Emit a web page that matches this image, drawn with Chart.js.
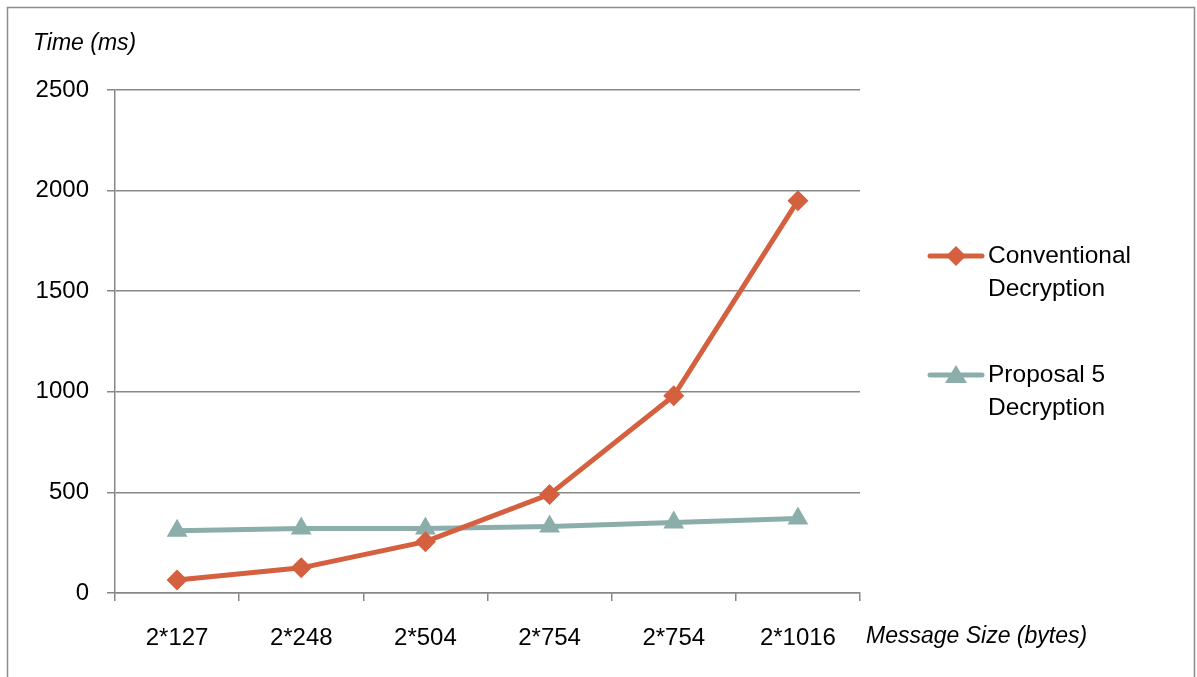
<!DOCTYPE html>
<html>
<head>
<meta charset="utf-8">
<script src="https://cdn.jsdelivr.net/npm/chart.js@4/dist/chart.umd.min.js"></script>
<style>
  html, body { margin: 0; padding: 0; background: #fff; }
  #wrap { width: 1197px; height: 677px; position: relative; }
</style>
</head>
<body>
<div id="wrap"><canvas id="c" width="1197" height="677"></canvas></div>
<script>
// Decryption timing data
const categories = ['2*127', '2*248', '2*504', '2*754', '2*754', '2*1016'];
const conventionalValues = [65, 125, 255, 490, 980, 1950];
const proposalValues = [310, 320, 320, 330, 350, 370];
const seriesNames = [['Conventional', 'Decryption'], ['Proposal 5', 'Decryption']];
const yTicks = [0, 500, 1000, 1500, 2000, 2500];

const FONT = '"Liberation Sans", Arial, sans-serif';
const ORANGE = '#D4603F';
const TEAL = '#8BAEAB';
const GRID = '#878787';

// Frame, axis titles and legend
const decorations = {
  id: 'decorations',
  afterDraw(chart) {
    const ctx = chart.ctx;
    ctx.save();
    // outer frame
    ctx.strokeStyle = '#8c8c8c';
    ctx.lineWidth = 1.5;
    ctx.beginPath();
    ctx.moveTo(7.5, 680);
    ctx.lineTo(7.5, 7.5);
    ctx.lineTo(1194.5, 7.5);
    ctx.lineTo(1194.5, 680);
    ctx.stroke();

    // axis titles
    ctx.fillStyle = '#000';
    ctx.textBaseline = 'middle';
    ctx.textAlign = 'left';
    ctx.font = 'italic 23px ' + FONT;
    ctx.fillText('Time (ms)', 33, 44);
    ctx.fillText('Message Size (bytes)', 866, 637);

    // legend
    const rows = [256, 375];
    chart.data.datasets.forEach((ds, i) => {
      const y = rows[i];
      ctx.strokeStyle = ds.borderColor;
      ctx.lineWidth = 5;
      ctx.lineCap = 'round';
      ctx.beginPath();
      ctx.moveTo(930, y);
      ctx.lineTo(982, y);
      ctx.stroke();
      ctx.fillStyle = ds.borderColor;
      ctx.beginPath();
      if (ds.pointStyle === 'rectRot') {
        ctx.moveTo(956, y - 10);
        ctx.lineTo(966, y);
        ctx.lineTo(956, y + 10);
        ctx.lineTo(946, y);
      } else {
        ctx.moveTo(956, y - 10);
        ctx.lineTo(967, y + 8);
        ctx.lineTo(945, y + 8);
      }
      ctx.closePath();
      ctx.fill();
      ctx.fillStyle = '#000';
      ctx.font = '24.5px ' + FONT;
      seriesNames[i].forEach((t, k) => ctx.fillText(t, 988, y + k * 33));
    });
    ctx.restore();
  }
};

new Chart(document.getElementById('c'), {
  type: 'line',
  data: {
    labels: categories,
    datasets: [
      {
        label: seriesNames[0].join(' '),
        data: conventionalValues,
        borderColor: ORANGE,
        backgroundColor: ORANGE,
        borderWidth: 5,
        pointStyle: 'rectRot',
        pointRadius: 10.5,
        pointBorderWidth: 0,
        tension: 0
      },
      {
        label: seriesNames[1].join(' '),
        data: proposalValues,
        borderColor: TEAL,
        backgroundColor: TEAL,
        borderWidth: 5,
        pointStyle: 'triangle',
        pointRadius: 12,
        pointBorderWidth: 0,
        tension: 0
      }
    ]
  },
  options: {
    responsive: false,
    animation: false,
    layout: { padding: { left: 0, right: 337, top: 90, bottom: 0 } },
    plugins: { legend: { display: false }, tooltip: { enabled: false } },
    scales: {
      x: {
        offset: true,
        grid: { offset: true, drawOnChartArea: false, tickLength: 8, color: GRID, lineWidth: 1.5 },
        border: { color: GRID, width: 1.5 },
        ticks: { color: '#000', font: { family: FONT, size: 24 }, padding: 23, maxRotation: 0 },
        afterFit(s) { s.height = 84; }
      },
      y: {
        min: 0,
        max: 2500,
        afterBuildTicks(s) { s.ticks = yTicks.map(v => ({ value: v })); },
        grid: { tickLength: 8, color: GRID, lineWidth: 1.5 },
        border: { color: GRID, width: 1.5 },
        ticks: {
          color: '#000',
          font: { family: FONT, size: 24 },
          padding: 18,
          callback: v => String(v)
        },
        afterFit(s) { s.width = 115; }
      }
    }
  },
  plugins: [decorations]
});
</script>
</body>
</html>
